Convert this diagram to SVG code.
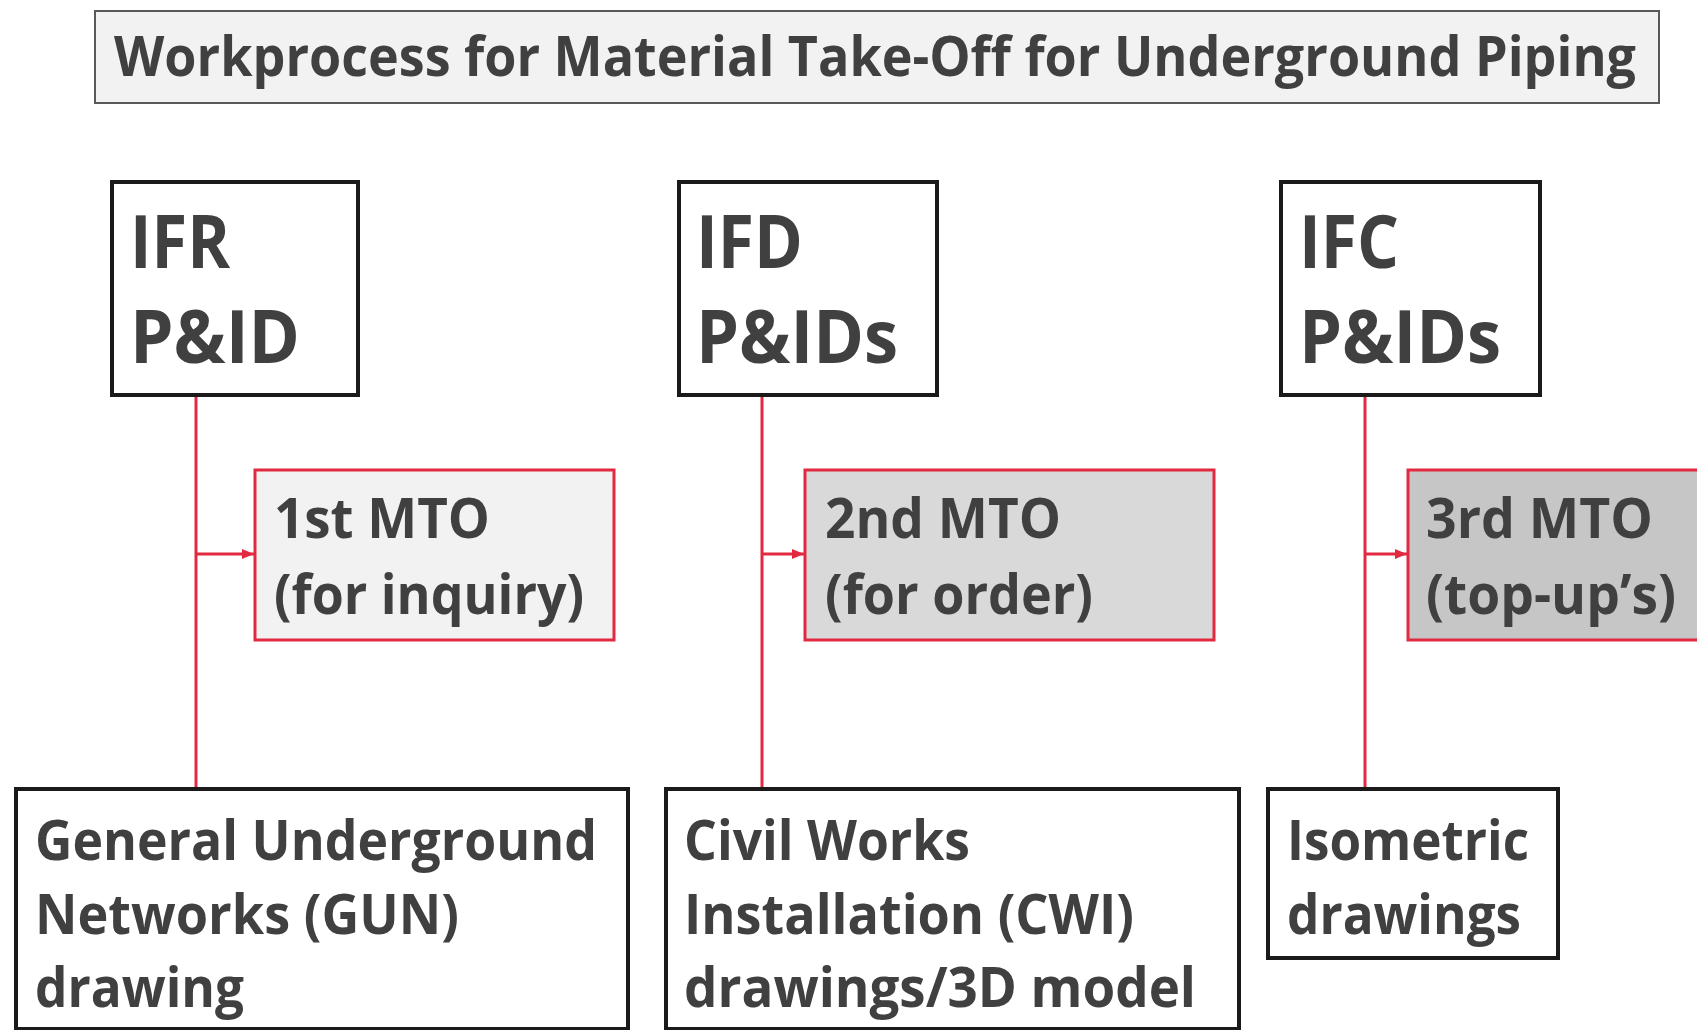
<svg xmlns="http://www.w3.org/2000/svg" width="1697" height="1030" viewBox="0 0 1697 1030">
<defs>
<marker id="arr" viewBox="0 0 12 10" refX="12" refY="5" markerWidth="12" markerHeight="10" orient="auto" markerUnits="userSpaceOnUse">
<path d="M0,0 L12,5 L0,10 z" fill="#e12a40"/>
</marker>
<style>
text{font-family:"Open Sans","Noto Sans","Liberation Sans",sans-serif;font-weight:700;fill:#404040}
.big{font-size:73px}
.mid{font-size:56px}
.blk{fill:#ffffff;stroke:#1a1a1a;stroke-width:4}
.red{stroke:#e12a40;stroke-width:3}
.conn{stroke:#e12a40;stroke-width:3;fill:none}
</style>
</defs>
<rect width="1697" height="1030" fill="#ffffff"/>
<g id="title">
<rect x="95" y="11" width="1564" height="92" fill="#f2f2f2" stroke="#595959" stroke-width="2"/>
<text class="mid" x="114" y="76" textLength="1522" lengthAdjust="spacingAndGlyphs">Workprocess for Material Take-Off for Underground Piping</text>
</g>
<g id="connectors">
<line class="conn" x1="196" y1="397" x2="196" y2="789"/>
<line class="conn" x1="762" y1="397" x2="762" y2="789"/>
<line class="conn" x1="1365" y1="397" x2="1365" y2="789"/>
<line class="conn" x1="196" y1="554" x2="254" y2="554" marker-end="url(#arr)"/>
<line class="conn" x1="762" y1="554" x2="804" y2="554" marker-end="url(#arr)"/>
<line class="conn" x1="1365" y1="554" x2="1407" y2="554" marker-end="url(#arr)"/>
</g>
<g id="ifr">
<rect class="blk" x="112" y="182" width="246" height="213"/>
<text class="big" x="130" y="268" textLength="100" lengthAdjust="spacingAndGlyphs">IFR</text>
<text class="big" x="130" y="363" textLength="170" lengthAdjust="spacingAndGlyphs">P&amp;ID</text>
</g>
<g id="ifd">
<rect class="blk" x="679" y="182" width="258" height="213"/>
<text class="big" x="696" y="268" textLength="107" lengthAdjust="spacingAndGlyphs">IFD</text>
<text class="big" x="696" y="363" textLength="202" lengthAdjust="spacingAndGlyphs">P&amp;IDs</text>
</g>
<g id="ifc">
<rect class="blk" x="1281" y="182" width="259" height="213"/>
<text class="big" x="1299" y="268" textLength="100" lengthAdjust="spacingAndGlyphs">IFC</text>
<text class="big" x="1299" y="363" textLength="202" lengthAdjust="spacingAndGlyphs">P&amp;IDs</text>
</g>
<g id="mto1">
<rect class="red" x="255" y="470" width="359" height="170" fill="#f2f2f2"/>
<text class="mid" x="274" y="538" textLength="216" lengthAdjust="spacingAndGlyphs">1st MTO</text>
<text class="mid" x="274" y="614" textLength="310" lengthAdjust="spacingAndGlyphs">(for inquiry)</text>
</g>
<g id="mto2">
<rect class="red" x="805" y="470" width="409" height="170" fill="#d9d9d9"/>
<text class="mid" x="825" y="538" textLength="236" lengthAdjust="spacingAndGlyphs">2nd MTO</text>
<text class="mid" x="825" y="614" textLength="268" lengthAdjust="spacingAndGlyphs">(for order)</text>
</g>
<g id="mto3">
<rect class="red" x="1408" y="470" width="300" height="170" fill="#c6c6c6"/>
<text class="mid" x="1426" y="538" textLength="227" lengthAdjust="spacingAndGlyphs">3rd MTO</text>
<text class="mid" x="1426" y="614" textLength="250" lengthAdjust="spacingAndGlyphs">(top-up’s)</text>
</g>
<g id="gun">
<rect class="blk" x="16" y="789" width="612" height="240"/>
<text class="mid" x="35" y="860" textLength="562" lengthAdjust="spacingAndGlyphs">General Underground</text>
<text class="mid" x="35" y="934" textLength="424" lengthAdjust="spacingAndGlyphs">Networks (GUN)</text>
<text class="mid" x="35" y="1007" textLength="209" lengthAdjust="spacingAndGlyphs">drawing</text>
</g>
<g id="cwi">
<rect class="blk" x="666" y="789" width="573" height="240"/>
<text class="mid" x="684" y="860" textLength="286" lengthAdjust="spacingAndGlyphs">Civil Works</text>
<text class="mid" x="684" y="934" textLength="450" lengthAdjust="spacingAndGlyphs">Installation (CWI)</text>
<text class="mid" x="684" y="1007" textLength="512" lengthAdjust="spacingAndGlyphs">drawings/3D model</text>
</g>
<g id="iso">
<rect class="blk" x="1268" y="789" width="290" height="169"/>
<text class="mid" x="1287" y="860" textLength="242" lengthAdjust="spacingAndGlyphs">Isometric</text>
<text class="mid" x="1287" y="934" textLength="234" lengthAdjust="spacingAndGlyphs">drawings</text>
</g>
</svg>
